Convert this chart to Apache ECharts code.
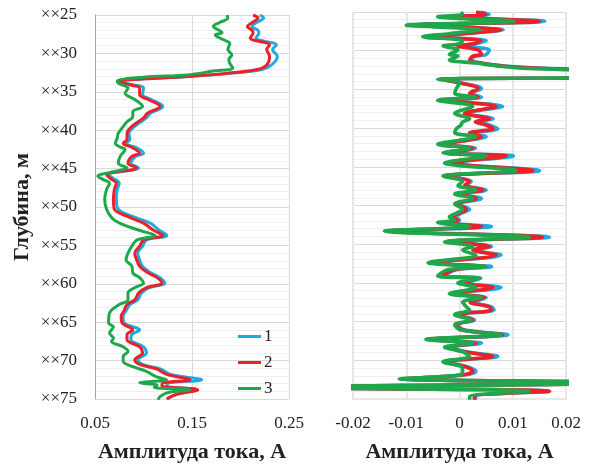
<!DOCTYPE html>
<html><head><meta charset="utf-8">
<script src="https://cdn.jsdelivr.net/npm/echarts@6/dist/echarts.min.js"></script>
<style>html,body{margin:0;padding:0;background:#fff}#c{width:590px;height:464px}</style>
</head><body><div id="c"></div>
<script>
// ---------- Left panel: amplitude, A ----------
const depthL12 = [25.0,25.4,26.0,26.5,27.0,27.3,28.0,28.9,29.5,30.4,31.5,32.1,32.6,33.0,33.4,33.6,34.1,34.5,35.4,36.0,36.9,37.8,38.4,39.5,40.4,41.2,41.7,42.3,43.0,43.4,44.3,44.9,45.8,46.3,46.9,47.7,49.0,50.3,51.2,52.1,53.0,53.7,54.3,55.1,56.0,56.9,57.7,58.6,59.2,59.9,60.5,61.2,62.1,62.7,63.5,64.2,65.1,66.0,66.6,67.3,68.2,69.0,69.9,70.5,71.1,71.8,72.5,72.9,73.3,73.8,74.4,75.0];
const ampL1 = [0.220,0.224,0.216,0.212,0.218,0.219,0.216,0.237,0.233,0.238,0.232,0.222,0.190,0.148,0.090,0.074,0.090,0.100,0.099,0.108,0.120,0.107,0.103,0.091,0.085,0.086,0.082,0.093,0.100,0.092,0.087,0.095,0.064,0.069,0.075,0.073,0.072,0.074,0.088,0.107,0.116,0.124,0.103,0.099,0.094,0.096,0.099,0.108,0.117,0.122,0.106,0.098,0.094,0.086,0.082,0.079,0.080,0.096,0.088,0.087,0.100,0.103,0.094,0.099,0.118,0.128,0.160,0.126,0.124,0.155,0.134,0.124];
const ampL2 = [0.213,0.218,0.212,0.207,0.212,0.213,0.210,0.230,0.227,0.230,0.227,0.217,0.186,0.145,0.089,0.073,0.086,0.096,0.096,0.105,0.117,0.104,0.100,0.088,0.083,0.083,0.079,0.089,0.096,0.088,0.084,0.093,0.062,0.066,0.072,0.070,0.069,0.070,0.083,0.100,0.110,0.120,0.100,0.096,0.091,0.093,0.096,0.105,0.114,0.119,0.103,0.095,0.091,0.083,0.080,0.077,0.078,0.089,0.083,0.083,0.096,0.099,0.091,0.096,0.114,0.124,0.148,0.120,0.119,0.156,0.134,0.124];
const depthL3 = [25.0,25.4,26.0,26.5,27.0,27.3,27.6,28.2,28.7,29.5,30.2,30.8,31.3,31.9,32.3,32.8,33.1,33.6,33.9,34.5,35.2,36.0,36.9,37.6,38.2,38.9,39.7,40.4,41.0,41.7,42.2,42.5,43.4,44.3,44.9,45.4,46.0,46.4,46.9,47.7,49.0,50.3,51.6,52.5,53.2,53.7,54.3,54.9,56.0,56.9,57.7,58.6,59.2,59.9,60.5,61.2,62.1,62.7,63.8,65.1,65.6,66.4,67.1,67.5,68.2,68.8,69.5,70.1,70.8,71.4,72.1,72.5,72.9,73.2,73.5,73.8,74.2,74.7,75.1];
const ampL3 = [0.186,0.187,0.178,0.172,0.178,0.181,0.174,0.182,0.189,0.187,0.191,0.188,0.189,0.192,0.172,0.145,0.100,0.073,0.074,0.084,0.081,0.091,0.099,0.089,0.089,0.083,0.078,0.074,0.073,0.071,0.076,0.081,0.076,0.074,0.083,0.069,0.053,0.058,0.065,0.062,0.060,0.062,0.069,0.083,0.100,0.112,0.093,0.089,0.084,0.082,0.088,0.089,0.096,0.100,0.091,0.084,0.084,0.075,0.065,0.064,0.069,0.065,0.069,0.067,0.079,0.084,0.079,0.079,0.089,0.103,0.113,0.124,0.096,0.114,0.111,0.148,0.124,0.117,0.115];

// ---------- Right panel: amplitude, A ----------
const depthR = [25.0,25.3,25.6,26.2,26.7,27.3,27.8,28.2,28.7,29.1,29.4,29.9,30.5,30.7,31.2,31.6,32.0,32.3,32.55,33.0,33.45,33.7,34.2,34.9,35.5,36.0,36.4,37.2,38.1,38.8,39.2,39.6,40.1,40.6,41.1,41.5,42.1,42.6,43.2,43.6,44.5,45.5,46.2,46.9,47.4,48.0,48.5,49.1,49.8,50.5,51.0,51.5,51.9,52.2,52.7,53.3,54.1,54.7,55.3,55.75,56.4,57.4,57.9,58.3,59.1,59.4,60.0,60.6,61.4,61.9,62.5,63.1,63.5,64.1,64.8,65.4,66.1,66.7,67.3,67.8,68.3,68.9,69.5,70.2,70.8,71.4,71.9,72.4,72.9,73.5,74.0,74.7,75.1];
const ampR1 = [0.0040,0.0056,0.0000,0.0160,-0.0080,0.0082,0.0010,-0.0050,0.0050,0.0030,0.0003,0.0056,0.0050,0.0030,0.0022,0.0041,0.0090,0.0170,0.029,0.040,0.030,-0.0033,0.0006,0.0041,0.0022,0.0041,-0.0022,0.0081,0.0013,0.0063,0.0035,0.0056,0.0072,0.0022,0.0050,0.0022,-0.0028,0.0030,-0.0025,0.0101,-0.0010,0.0150,-0.0025,0.0022,0.0013,0.0050,0.0003,0.0041,-0.0003,0.0019,0.0003,-0.0006,0.0000,-0.0028,0.0060,-0.0125,0.0169,-0.0022,0.0060,0.0028,0.0078,-0.0047,0.0060,-0.0006,-0.0028,0.0040,0.0013,0.0078,-0.0010,0.0050,0.0030,0.0060,0.0065,-0.0003,0.0028,-0.0003,0.0010,0.0091,-0.0050,0.0041,-0.0016,0.0013,0.0072,-0.0025,0.0013,0.0031,0.0008,-0.0105,0.035,-0.035,0.0169,0.0030,0.0030];
const ampR2 = [0.0031,0.0050,-0.0006,0.0150,-0.0085,0.0078,0.0006,-0.0056,0.0040,0.0025,-0.0003,0.0035,0.0041,0.0025,0.0019,0.0038,0.0085,0.0160,0.028,0.040,0.030,-0.0035,0.0003,0.0035,0.0019,0.0035,-0.0025,0.0069,0.0009,0.0056,0.0030,0.0050,0.0063,0.0019,0.0041,0.0020,-0.0031,0.0025,-0.0028,0.0088,-0.0013,0.0138,-0.0028,0.0019,0.0010,0.0044,0.0000,0.0031,-0.0006,0.0013,0.0000,-0.0013,-0.0003,-0.0031,0.0041,-0.0130,0.0156,-0.0025,0.0056,0.0025,0.0069,-0.0050,0.0047,-0.0010,-0.0031,0.0035,0.0010,0.0063,-0.0013,0.0047,0.0020,0.0056,0.0060,-0.0006,0.0025,-0.0006,0.0006,0.0081,-0.0056,0.0031,-0.0020,0.0009,0.0063,-0.0028,0.0010,0.0025,0.0005,-0.0108,0.035,-0.035,0.0169,0.0028,0.0028];
const ampR3 = [0.0003,0.0006,-0.0041,0.0103,-0.0100,0.0038,-0.0019,-0.0069,0.0006,0.0000,-0.0031,-0.0003,-0.0019,-0.0003,-0.0019,0.0031,0.0075,0.0130,0.025,0.040,0.030,-0.0041,0.0000,-0.0006,-0.0009,0.0031,-0.0041,0.0025,-0.0009,0.0019,0.0006,0.0003,-0.0006,-0.0009,0.0031,0.0006,-0.0041,0.0019,-0.0031,0.0050,-0.0028,0.0106,-0.0031,0.0006,-0.0003,0.0031,-0.0009,0.0025,-0.0009,0.0006,-0.0006,-0.0019,-0.0009,-0.0041,0.0019,-0.0141,0.0131,-0.0028,0.0025,0.0006,0.0031,-0.0059,0.0050,-0.0022,-0.0041,0.0038,-0.0003,0.0031,-0.0019,0.0041,0.0006,0.0013,0.0019,-0.0009,0.0022,-0.0009,0.0003,0.0078,-0.0063,0.0025,-0.0028,0.0006,0.0019,-0.0031,0.0003,0.0006,0.0000,-0.0113,0.035,-0.035,0.0131,0.0019,0.0019];

const seriesNames = ['1','2','3'];
const colors = ['#21a9e1','#ec2028','#1ea84b'];
const depthMin = 25, depthMax = 75, depthStep = 5;

const FONT = '"Liberation Serif","Times New Roman",serif';
function pairs(xs, ds){ return xs.map((v,i)=>[v, ds[i]]); }

const chart = echarts.init(document.getElementById('c'), null, {renderer:'canvas'});
const yCommon = (idx, showLabels, lineColor, lineWidth) => ({
  type:'value', gridIndex: idx, inverse:true, min:depthMin, max:depthMax, interval:depthStep,
  axisLine:{show:true, lineStyle:{color:lineColor, width:lineWidth}},
  axisTick:{show:false},
  axisLabel:{show:showLabels, fontFamily:FONT, fontSize:17, color:'#222', margin:18,
    formatter: v => '××' + v},
  splitLine:{show:true, lineStyle:{color:'#d9d9d9', width:1}},
  minorTick:{show:false, splitNumber:5},
  minorSplitLine:{show:true, lineStyle:{color:'#efefef', width:1}},
  name: showLabels ? 'Глубина, м' : '', nameLocation:'middle', nameRotate:90, nameGap:62,
  nameTextStyle:{fontFamily:FONT, fontSize:22, fontWeight:'bold', color:'#222'}
});
const xCommon = (idx, mn, mx, iv, gridColor, gw) => ({
  type:'value', gridIndex: idx, min:mn, max:mx, interval:iv,
  axisLine:{show:true, lineStyle:{color:gridColor, width:gw}},
  axisTick:{show:false},
  axisLabel:{fontFamily:FONT, fontSize:17, color:'#222', margin:16,
    formatter: v => String(Math.round(v*1000)/1000)},
  splitLine:{show:true, lineStyle:{color:gridColor, width:gw}},
  name:'Амплитуда тока, А', nameLocation:'middle', nameGap:42,
  nameTextStyle:{fontFamily:FONT, fontSize:22, fontWeight:'bold', color:'#222'}
});

const leftData = [pairs(ampL1, depthL12), pairs(ampL2, depthL12), pairs(ampL3, depthL3)];
const rightData = [pairs(ampR1, depthR), pairs(ampR2, depthR), pairs(ampR3, depthR)];
const series = [];
for (let i=0;i<3;i++){
  series.push({type:'line', name:seriesNames[i], xAxisIndex:0, yAxisIndex:0, data:leftData[i],
    showSymbol:false, smooth:0.35, clip:true, color:colors[i],
    lineStyle:{width:3, color:colors[i]}, z:2+i});
}
for (let i=0;i<3;i++){
  series.push({type:'line', name:seriesNames[i], xAxisIndex:1, yAxisIndex:1, data:rightData[i],
    showSymbol:false, smooth:0.35, clip:true, color:colors[i],
    lineStyle:{width:3.6, color:colors[i]}, z:2+i});
}

chart.setOption({
  animation:false,
  backgroundColor:'#fff',
  grid:[
    {left:95, top:15, width:194, height:384, outerBoundsMode:'none', containLabel:false},
    {left:353, top:12, width:213, height:387, outerBoundsMode:'none', containLabel:false}
  ],
  xAxis:[ xCommon(0, 0.05, 0.25, 0.1, '#d9d9d9', 1), xCommon(1, -0.02, 0.02, 0.01, '#e6e6e6', 2) ],
  yAxis:[ yCommon(0, true, '#a6a6a6', 1), yCommon(1, false, '#e6e6e6', 2) ],
  legend:{
    data:seriesNames, orient:'vertical', left:233, top:323, icon:'rect',
    itemWidth:23, itemHeight:3, itemGap:9,
    textStyle:{fontFamily:FONT, fontSize:17, color:'#222', padding:[0,0,0,-2]}
  },
  series: series
});
</script>
</body></html>
